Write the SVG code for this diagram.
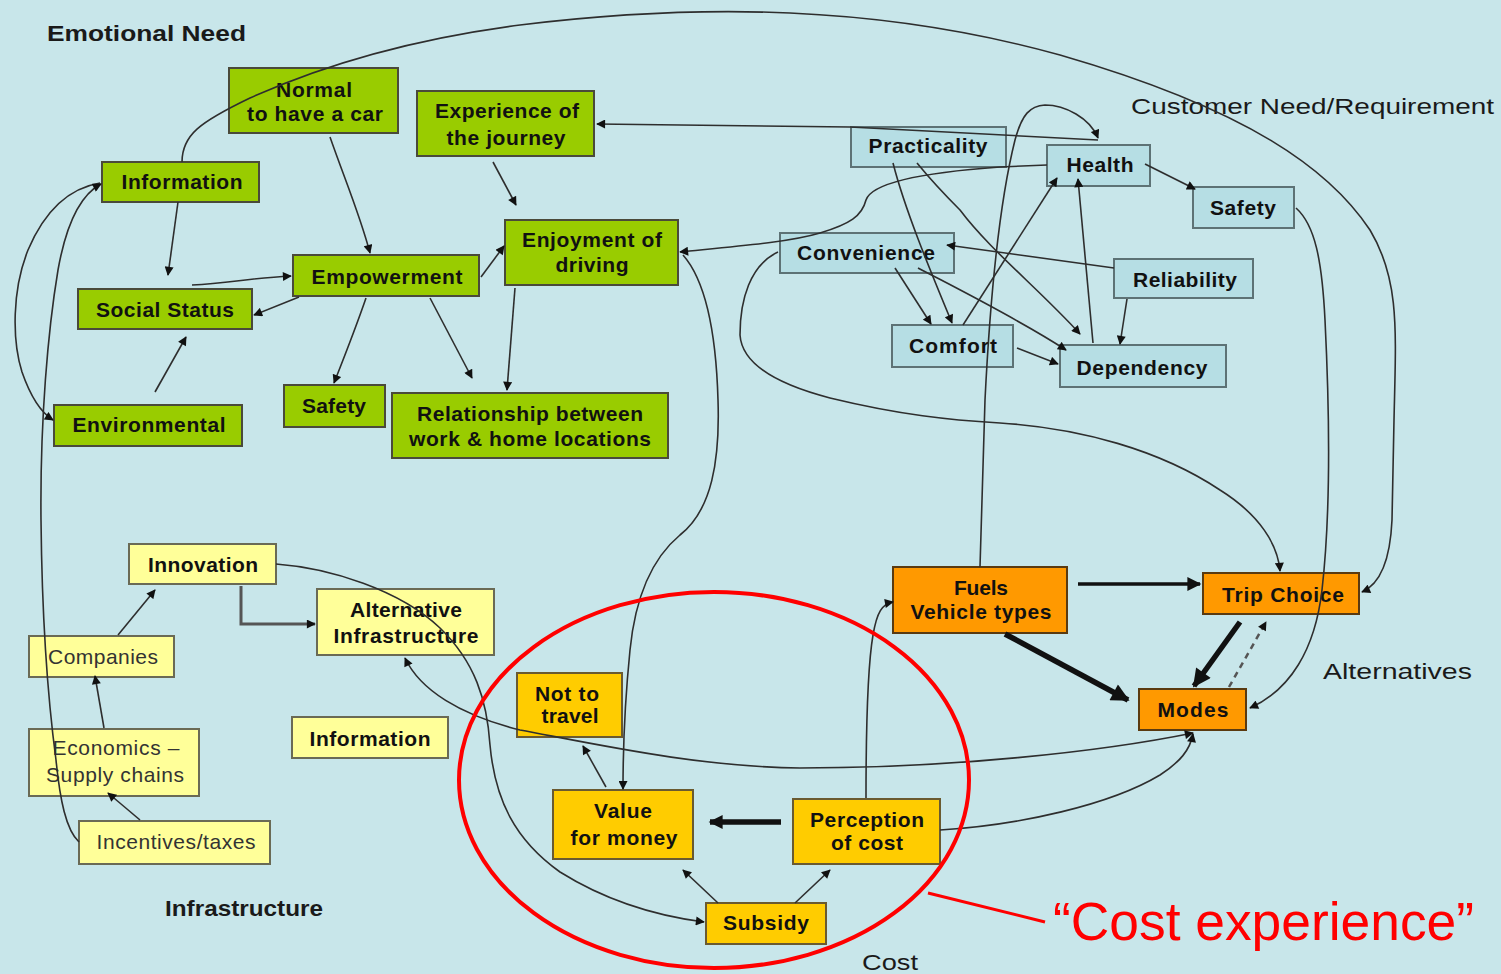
<svg xmlns="http://www.w3.org/2000/svg" width="1501" height="974" viewBox="0 0 1501 974">
<style>
.bg{fill:#c8e6ea}
.g rect.b{fill:#99cc00;stroke:#4a4a3a;stroke-width:2}
.c rect.b{fill:#b6dee4;stroke:#5d7275;stroke-width:2}
.y rect.b{fill:#ffff99;stroke:#6a6a55;stroke-width:2}
.o rect.b{fill:#ffcc00;stroke:#6a5a30;stroke-width:2}
.r rect.b{fill:#ff9900;stroke:#5a3a10;stroke-width:2}
.n text{font-family:"Liberation Sans",Arial,sans-serif;font-size:21px;font-weight:bold;fill:#111;text-anchor:middle}
.n text.l{font-weight:normal;fill:#333}
.lab{font-family:"Liberation Sans",Arial,sans-serif;font-size:22px;fill:#1a1a1a}
.e{fill:none;stroke:#2e2e2e;stroke-width:1.6}
.t3{stroke-width:3.5;stroke:#111}
.t5{stroke-width:5.5;stroke:#111}
</style>
<defs>
<marker id="a" viewBox="0 0 10 10" refX="9" refY="5" markerWidth="10" markerHeight="9" markerUnits="userSpaceOnUse" orient="auto-start-reverse"><path d="M0,0 L10,5 L0,10 z" fill="#111"/></marker>
<marker id="ab" viewBox="0 0 10 10" refX="9" refY="5" markerWidth="22" markerHeight="18" markerUnits="userSpaceOnUse" orient="auto"><path d="M0,0 L10,5 L0,10 z" fill="#111"/></marker>
<marker id="am" viewBox="0 0 10 10" refX="9" refY="5" markerWidth="16" markerHeight="14" markerUnits="userSpaceOnUse" orient="auto"><path d="M0,0 L10,5 L0,10 z" fill="#111"/></marker>
</defs>
<rect class="bg" x="0" y="0" width="1501" height="974"/>

<g id="labels">
<text class="lab" x="47" y="41" textLength="199" lengthAdjust="spacingAndGlyphs" font-weight="bold">Emotional Need</text>
<text class="lab" x="1131" y="114" textLength="363" lengthAdjust="spacingAndGlyphs">Customer Need/Requirement</text>
<text class="lab" x="1323" y="679" textLength="149" lengthAdjust="spacingAndGlyphs">Alternatives</text>
<text class="lab" x="165" y="916" textLength="158" lengthAdjust="spacingAndGlyphs" font-weight="bold" font-size="23">Infrastructure</text>
<text class="lab" x="862" y="970" textLength="56" lengthAdjust="spacingAndGlyphs">Cost</text>
</g>

<g id="n_normal" class="n g"><rect class="b" x="229" y="68" width="169" height="65"/><text x="314" y="97" textLength="76">Normal</text><text x="315" y="121" textLength="136">to have a car</text></g>
<g id="n_experience" class="n g"><rect class="b" x="417" y="91" width="177" height="65"/><text x="507" y="118" textLength="144">Experience of</text><text x="506" y="145" textLength="119">the journey</text></g>
<g id="n_information1" class="n g"><rect class="b" x="102" y="162" width="157" height="40"/><text x="182" y="189" textLength="121">Information</text></g>
<g id="n_social" class="n g"><rect class="b" x="78" y="289" width="174" height="40"/><text x="165" y="317" textLength="138">Social Status</text></g>
<g id="n_empowerment" class="n g"><rect class="b" x="293" y="255" width="186" height="41"/><text x="387" y="284" textLength="151">Empowerment</text></g>
<g id="n_enjoyment" class="n g"><rect class="b" x="505" y="220" width="173" height="65"/><text x="592" y="247" textLength="140">Enjoyment of</text><text x="592" y="272" textLength="73">driving</text></g>
<g id="n_safety1" class="n g"><rect class="b" x="284" y="385" width="101" height="42"/><text x="334" y="413" textLength="64">Safety</text></g>
<g id="n_relationship" class="n g"><rect class="b" x="392" y="393" width="276" height="65"/><text x="530" y="421" textLength="226">Relationship between</text><text x="530" y="446" textLength="242">work &amp; home locations</text></g>
<g id="n_environmental" class="n g"><rect class="b" x="54" y="405" width="188" height="41"/><text x="149" y="432" textLength="153">Environmental</text></g>

<g id="n_practicality" class="n c"><rect class="b" x="851" y="127" width="155" height="40"/><text x="928" y="153" textLength="119">Practicality</text></g>
<g id="n_health" class="n c"><rect class="b" x="1047" y="145" width="103" height="41"/><text x="1100" y="172" textLength="67">Health</text></g>
<g id="n_safety2" class="n c"><rect class="b" x="1193" y="187" width="101" height="41"/><text x="1243" y="215" textLength="66">Safety</text></g>
<g id="n_convenience" class="n c"><rect class="b" x="780" y="233" width="174" height="40"/><text x="866" y="260" textLength="138">Convenience</text></g>
<g id="n_reliability" class="n c"><rect class="b" x="1114" y="259" width="139" height="39"/><text x="1185" y="287" textLength="104">Reliability</text></g>
<g id="n_comfort" class="n c"><rect class="b" x="892" y="325" width="121" height="42"/><text x="953" y="353" textLength="88">Comfort</text></g>
<g id="n_dependency" class="n c"><rect class="b" x="1060" y="345" width="166" height="42"/><text x="1142" y="375" textLength="131">Dependency</text></g>

<g id="n_innovation" class="n y"><rect class="b" x="129" y="544" width="147" height="40"/><text x="203" y="572" textLength="110">Innovation</text></g>
<g id="n_altinfra" class="n y"><rect class="b" x="317" y="589" width="177" height="66"/><text x="406" y="617" textLength="112">Alternative</text><text x="406" y="643" textLength="145">Infrastructure</text></g>
<g id="n_companies" class="n y"><rect class="b" x="29" y="636" width="145" height="41"/><text class="l" x="103" y="664" textLength="110">Companies</text></g>
<g id="n_information2" class="n y"><rect class="b" x="292" y="717" width="156" height="41"/><text x="370" y="746" textLength="121">Information</text></g>
<g id="n_economics" class="n y"><rect class="b" x="29" y="729" width="170" height="67"/><text class="l" x="116" y="755" textLength="127">Economics –</text><text class="l" x="115" y="782" textLength="138">Supply chains</text></g>
<g id="n_incentives" class="n y"><rect class="b" x="79" y="821" width="191" height="43"/><text class="l" x="176" y="849" textLength="159">Incentives/taxes</text></g>

<g id="n_nottravel" class="n o"><rect class="b" x="517" y="673" width="105" height="64"/><text x="567" y="701" textLength="64" font-size="22">Not to</text><text x="570" y="723" textLength="57" font-size="22">travel</text></g>
<g id="n_value" class="n o"><rect class="b" x="553" y="790" width="140" height="69"/><text x="623" y="818" textLength="58">Value</text><text x="624" y="845" textLength="107">for money</text></g>
<g id="n_perception" class="n o"><rect class="b" x="793" y="799" width="147" height="65"/><text x="867" y="827" textLength="114">Perception</text><text x="867" y="850" textLength="72">of cost</text></g>
<g id="n_subsidy" class="n o"><rect class="b" x="706" y="903" width="120" height="41"/><text x="766" y="930" textLength="86">Subsidy</text></g>

<g id="n_fuels" class="n r"><rect class="b" x="893" y="567" width="174" height="66"/><text x="981" y="595" textLength="54">Fuels</text><text x="981" y="619" textLength="141">Vehicle types</text></g>
<g id="n_trip" class="n r"><rect class="b" x="1203" y="573" width="156" height="41"/><text x="1283" y="602" textLength="122">Trip Choice</text></g>
<g id="n_modes" class="n r"><rect class="b" x="1139" y="689" width="107" height="41"/><text x="1193" y="717" textLength="71">Modes</text></g>

<g id="connectors">
<path class="e" marker-end="url(#a)" d="M182,162 C182,135 200,122 250,98 C330,62 420,38 520,25 C700,3 880,5 1060,55 C1250,110 1330,170 1370,230 C1400,280 1396,330 1394,420 L1392,520 C1390,565 1378,585 1362,592"/>
<path class="e" marker-end="url(#a)" d="M1098,140 L850,127 L597,124"/>
<path class="e" marker-end="url(#a)" d="M980,567 L985,400 C990,300 1000,200 1015,140 C1022,114 1030,106 1045,105 C1065,105 1090,118 1098,138"/>
<path class="e" marker-end="url(#a)" d="M963,325 L1057,178"/>
<path class="e" marker-end="url(#a)" d="M1093,343 L1078,179"/>
<path class="e" marker-end="url(#a)" d="M1145,164 L1195,189"/>
<path class="e" marker-end="url(#a)" d="M1296,208 C1315,225 1322,260 1325,320 C1330,420 1330,520 1322,590 C1315,650 1290,690 1250,708"/>
<path class="e" marker-end="url(#a)" d="M1114,268 L947,245"/>
<path class="e" marker-end="url(#a)" d="M1127,299 L1120,344"/>
<path class="e" marker-end="url(#a)" d="M893,163 C905,210 930,270 952,323"/>
<path class="e" marker-end="url(#a)" d="M917,163 C935,185 950,200 960,210 C990,250 1040,290 1080,334"/>
<path class="e" marker-end="url(#a)" d="M895,268 L931,324"/>
<path class="e" marker-end="url(#a)" d="M918,268 C960,290 1020,320 1066,350"/>
<path class="e" marker-end="url(#a)" d="M1017,348 L1058,364"/>
<path class="e" marker-end="url(#a)" d="M1047,165 L1000,167 C930,172 872,182 866,200 C862,216 850,224 820,233 C790,242 740,246 680,252"/>
<path class="e" marker-end="url(#a)" d="M778,252 C750,265 740,300 740,335 C742,365 780,385 830,398 C900,415 950,420 1000,423 C1080,428 1160,450 1220,490 C1260,515 1278,545 1280,571"/>
<path class="e" marker-end="url(#a)" d="M683,255 C705,280 716,330 718,400 C720,460 712,510 680,535 C650,560 635,600 630,650 C625,700 623,740 623,789"/>
<path class="e" marker-end="url(#a)" d="M493,162 L516,205"/>
<path class="e" marker-end="url(#a)" d="M515,288 L507,390"/>
<path class="e" marker-end="url(#a)" d="M481,277 L504,246"/>
<path class="e" marker-end="url(#a)" d="M330,137 C345,180 360,215 370,253"/>
<path class="e" marker-end="url(#a)" d="M178,202 L168,275"/>
<path class="e" marker-end="url(#a)" d="M192,285 C230,283 250,278 291,276"/>
<path class="e" marker-end="url(#a)" d="M299,297 L254,315"/>
<path class="e" marker-end="url(#a)" d="M155,392 L186,337"/>
<path class="e" marker-end="url(#a)" d="M366,298 C355,330 345,355 334,383"/>
<path class="e" marker-end="url(#a)" d="M430,298 L472,378"/>
<path class="e" marker-end="url(#a)" d="M100,183 C70,188 45,210 28,250 C12,290 12,340 22,372 C30,395 40,412 53,420"/>
<path class="e" marker-end="url(#a)" d="M79,842 C66,830 60,800 56,760 C48,700 42,620 41,520 C40,420 48,330 58,270 C66,225 80,195 101,184"/>
<path class="e" style="stroke:#555;stroke-width:3" marker-end="url(#a)" d="M241,586 L241,624 L315,624"/>
<path class="e" marker-end="url(#a)" d="M118,635 L155,590"/>
<path class="e" marker-end="url(#a)" d="M104,728 L95,676"/>
<path class="e" marker-end="url(#a)" d="M140,820 L108,793"/>
<path class="e" marker-end="url(#a)" d="M276,564 C330,568 400,590 440,628 C475,662 487,700 490,745 C495,800 515,840 560,872 C600,897 650,915 704,922"/>
<path class="e" marker-start="url(#a)" marker-end="url(#a)" d="M1193,733 C1100,752 950,768 800,768 C700,767 600,745 520,730 C460,715 420,690 405,658"/>
<path class="e" marker-end="url(#a)" d="M940,830 C1020,825 1110,805 1160,775 C1180,762 1190,750 1193,734"/>
<path class="e" marker-end="url(#a)" d="M606,787 L583,746"/>
<path class="e t5" marker-end="url(#am)" d="M781,822 L710,822"/>
<path class="e" marker-end="url(#a)" d="M718,903 L683,870"/>
<path class="e" marker-end="url(#a)" d="M795,903 L830,870"/>
<path class="e" marker-end="url(#a)" d="M866,798 C866,730 867,670 873,635 C877,612 882,604 893,602"/>
<path class="e t3" marker-end="url(#am)" d="M1078,584 L1200,584"/>
<path class="e t5" marker-end="url(#ab)" d="M1005,634 L1128,700"/>
<path class="e t5" marker-end="url(#ab)" d="M1240,622 L1194,686"/>
<path class="e" style="stroke:#555;stroke-width:2.5;stroke-dasharray:6,5" marker-end="url(#a)" d="M1229,687 L1266,622"/>
</g>

<g id="cost_experience">
<ellipse cx="714" cy="780" rx="255" ry="188" fill="none" stroke="#ff0000" stroke-width="4"/>
<line x1="928" y1="893" x2="1045" y2="922" stroke="#ff0000" stroke-width="3"/>
<text x="1053" y="940" font-family="Liberation Sans,Arial,sans-serif" font-size="53" fill="#ff0000" textLength="421" lengthAdjust="spacingAndGlyphs">“Cost experience”</text>
</g>
</svg>
